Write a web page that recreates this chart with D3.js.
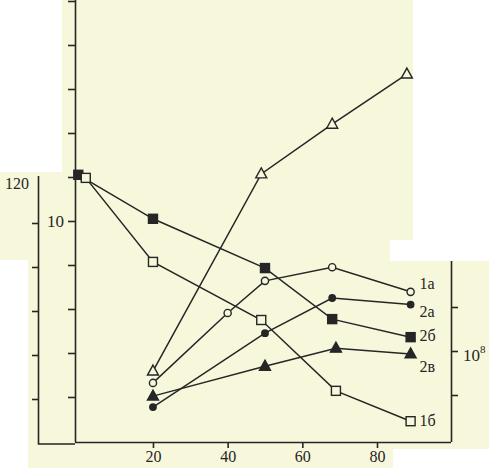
<!DOCTYPE html>
<html><head><meta charset="utf-8">
<script src="https://cdn.jsdelivr.net/npm/d3@7"></script>
<style>html,body{margin:0;padding:0;background:#fff;}svg{display:block;}</style>
</head><body>
<svg id="c" width="489" height="468"></svg>
<script>
// ---- data (x: parameter, y: value in axis units) ----
const xTicks = [20, 40, 60, 80];
const yTicks = [1, 2, 3, 4, 5, 6, 7, 8, 9, 10];
const yTickLabels = {5: "10"};
const outerTicks = [1, 2, 3, 4, 5];
const rightTicks = [1, 2, 3];

const s1a_x = [20, 40, 50, 68, 89];
const s1a_y = [1.32, 2.91, 3.64, 3.95, 3.39];
const s2a_x = [20, 50, 68, 89];
const s2a_y = [0.77, 2.45, 3.25, 3.1];
const s2b_x = [0, 20, 50, 68, 89];
const s2b_y = [6.05, 5.05, 3.93, 2.77, 2.36];
const s2v_x = [20, 50, 69, 89];
const s2v_y = [1.02, 1.70, 2.11, 1.98];
const s1b_x = [2, 20, 49, 69, 89];
const s1b_y = [5.98, 4.07, 2.75, 1.14, 0.45];
const s3_x = [20, 49, 68, 88];
const s3_y = [1.59, 6.07, 7.2, 8.34];

const seriesNames = ["1а", "2а", "2б", "2в", "1б", ""];

const svg = d3.select("#c");
const ink = "#262626";
const paper = "#f7f7dc";
const font = "'Liberation Serif', 'DejaVu Serif', serif";

// background (scanned page look)
svg.append("rect").attr("width", 489).attr("height", 468).attr("fill", paper);
[[0,0,62,172],[0,260,28,208],[413,0,76,240],[390,240,99,21],[393,449,96,19]].forEach(r=>{
  svg.append("rect").attr("x",r[0]).attr("y",r[1]).attr("width",r[2]).attr("height",r[3]).attr("fill","#fff");
});

const x = d3.scaleLinear().domain([0, 80]).range([78.3, 377]);
const y = d3.scaleLinear().domain([0, 10]).range([441, 1]);

// x axis
const gx = svg.append("g").attr("transform", "translate(0,442)");
gx.call(d3.axisBottom(x).tickValues(xTicks).tickSize(6).tickSizeOuter(0).tickPadding(3));
gx.select(".domain").attr("d", `M${75},0.5H${451}`);

// inner left axis
const gy = svg.append("g").attr("transform", "translate(75,0)");
gy.call(d3.axisLeft(y).tickValues(yTicks).tickSize(7).tickSizeOuter(0).tickPadding(4)
  .tickFormat(d => yTickLabels[d] || ""));
gy.select(".domain").attr("d", `M0.5,0V442`);

// outer left axis
const go = svg.append("g").attr("transform", "translate(38,2)");
go.call(d3.axisLeft(y).tickValues(outerTicks).tickSize(6).tickSizeOuter(0).tickFormat(""));
go.select(".domain").attr("d", `M0.5,${176-2}V${444-2}H${37}`);
go.append("text").attr("x", -33).attr("y", 187).attr("fill", ink)
  .attr("font-size", 16).attr("font-family", font).attr("text-anchor","start").text("120");

// right axis
const gr = svg.append("g").attr("transform", "translate(451,-2)");
gr.call(d3.axisRight(y).tickValues(rightTicks).tickSize(7).tickSizeOuter(0).tickFormat(""));
gr.select(".domain").attr("d", `M0.5,263V444`);
const rl = gr.append("text").attr("x", 12).attr("y", y(2) + 10).attr("fill", ink)
  .attr("font-size", 17).attr("font-family", font);
rl.append("tspan").text("10");
rl.append("tspan").attr("dy", -8).attr("font-size", 11).text("8");

svg.selectAll(".domain, .tick line").attr("stroke", ink).attr("stroke-width", 1.6);
svg.selectAll(".tick text").attr("fill", ink).attr("font-size", 17).attr("font-family", font);
gx.selectAll(".tick text").attr("font-size", 16);

// series
const line = d3.line().x(d => x(d[0])).y(d => y(d[1]));
const series = [
  {xs: s1a_x, ys: s1a_y, m: "circle", fill: false, label: seriesNames[0], ly: -8},
  {xs: s2a_x, ys: s2a_y, m: "circle", fill: true, label: seriesNames[1], ly: 7},
  {xs: s2b_x, ys: s2b_y, m: "square", fill: true, label: seriesNames[2], ly: -1},
  {xs: s2v_x, ys: s2v_y, m: "triangle", fill: true, label: seriesNames[3], ly: 13},
  {xs: s1b_x, ys: s1b_y, m: "square", fill: false, label: seriesNames[4], ly: 0},
  {xs: s3_x, ys: s3_y, m: "triangle", fill: false, label: seriesNames[5], ly: 0}
];
const gLines = svg.append("g");
const gMarks = svg.append("g");
series.forEach(s => {
  const pts = s.xs.map((v, i) => [v, s.ys[i]]);
  gLines.append("path").attr("d", line(pts)).attr("fill", "none")
    .attr("stroke", ink).attr("stroke-width", 1.5);
  pts.forEach(p => {
    const cx = x(p[0]), cy = y(p[1]);
    let el;
    if (s.m === "circle") {
      el = gMarks.append("circle").attr("cx", cx).attr("cy", cy).attr("r", s.fill ? 3.2 : 3.6);
    } else if (s.m === "square") {
      el = gMarks.append("rect").attr("x", cx - 4.5).attr("y", cy - 4.5).attr("width", 9).attr("height", 9);
    } else {
      el = gMarks.append("path").attr("d", `M${cx},${cy-6}L${cx+5.5},${cy+4}L${cx-5.5},${cy+4}Z`);
    }
    el.attr("fill", s.fill ? ink : paper).attr("stroke", ink).attr("stroke-width", 1.4);
  });
  if (s.label) {
    const last = pts[pts.length - 1];
    svg.append("text").attr("x", x(last[0]) + 9).attr("y", y(last[1]) + 5 + s.ly)
      .attr("fill", ink).attr("font-size", 16).attr("font-family", font).text(s.label);
  }
});
</script>
</body></html>
